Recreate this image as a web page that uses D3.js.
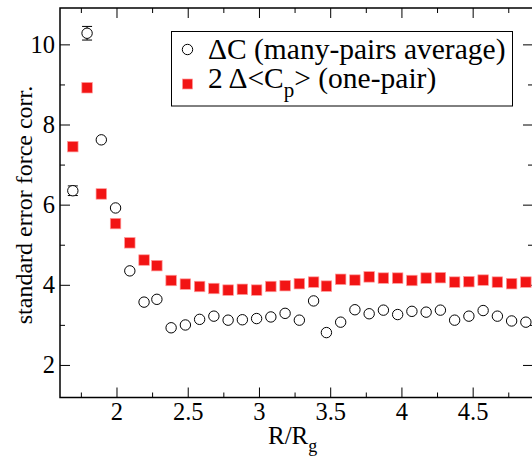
<!DOCTYPE html>
<html>
<head>
<meta charset="utf-8">
<script src="https://cdn.jsdelivr.net/npm/d3@7"></script>
<style>
  body { margin: 0; background: #fff; }
  text { font-family: "Liberation Serif", "Times New Roman", Times, "DejaVu Serif", serif; fill: #000; }
</style>
</head>
<body>
<svg id="chart" width="532" height="457"></svg>
<script>
// R/Rg positions of the samples
var rr = [1.69, 1.79, 1.89, 1.99, 2.09, 2.19, 2.28, 2.38, 2.48, 2.58, 2.68, 2.78, 2.88, 2.98, 3.08, 3.18, 3.28,
          3.38, 3.47, 3.57, 3.67, 3.77, 3.87, 3.97, 4.07, 4.17, 4.27, 4.37, 4.47, 4.57, 4.67, 4.77, 4.87];
// many-pairs average (open circles)
var manyPairs = [6.36, 10.29, 7.63, 5.93, 4.36, 3.58, 3.65, 2.94, 3.01, 3.15, 3.23, 3.13, 3.14, 3.17, 3.21, 3.30, 3.13,
                 3.61, 2.82, 3.08, 3.39, 3.29, 3.38, 3.27, 3.35, 3.33, 3.38, 3.13, 3.23, 3.37, 3.23, 3.11, 3.08];
var manyPairsErr = [0.12, 0.17, 0, 0, 0, 0, 0, 0, 0, 0, 0, 0, 0, 0, 0, 0, 0,
                    0, 0, 0, 0, 0, 0, 0, 0, 0, 0, 0, 0, 0, 0, 0, 0];
// 2 x one-pair (red squares)
var onePair = [7.46, 8.93, 6.28, 5.54, 5.06, 4.63, 4.49, 4.12, 4.03, 3.97, 3.92, 3.88, 3.90, 3.88, 3.97, 3.99, 4.04,
               4.08, 3.98, 4.15, 4.13, 4.21, 4.18, 4.18, 4.12, 4.18, 4.19, 4.08, 4.09, 4.13, 4.08, 4.04, 4.08];

var xTicks = [2, 2.5, 3, 3.5, 4, 4.5];
var xMinor = [1.75, 2.25, 2.75, 3.25, 3.75, 4.25, 4.75];
var yTicks = [2, 4, 6, 8, 10];
var yMinor = [3, 5, 7, 9];

var svg = d3.select("#chart");
// plot frame (note: "top" is a reserved window name, so use pL/pR/pT/pB)
var pL = 60, pR = 533, pT = 8, pB = 397.5;

var x = d3.scaleLinear().domain([1.6, 4.92]).range([pL, pR]);
var y = d3.scaleLinear().domain([1.2, 10.92]).range([pB, pT]);

var ax = svg.append("g").attr("stroke", "#000");

// frame
ax.append("rect")
  .attr("x", pL).attr("y", pT)
  .attr("width", pR - pL).attr("height", pB - pT)
  .attr("fill", "none").attr("stroke-width", 1.5);

// ticks pointing inward, on all four sides
function xTick(v, len) {
  ax.append("line").attr("x1", x(v)).attr("x2", x(v)).attr("y1", pB).attr("y2", pB - len);
  ax.append("line").attr("x1", x(v)).attr("x2", x(v)).attr("y1", pT).attr("y2", pT + len);
}
function yTick(v, len) {
  ax.append("line").attr("y1", y(v)).attr("y2", y(v)).attr("x1", pL).attr("x2", pL + len);
  ax.append("line").attr("y1", y(v)).attr("y2", y(v)).attr("x1", pR).attr("x2", pR - len);
}
xTicks.forEach(function(v) { xTick(v, 10); });
xMinor.forEach(function(v) { xTick(v, 5); });
yTicks.forEach(function(v) { yTick(v, 10); });
yMinor.forEach(function(v) { yTick(v, 5); });

// tick labels
svg.selectAll(".xl").data(xTicks).enter().append("text")
  .attr("x", function(d) { return x(d); }).attr("y", 420)
  .attr("text-anchor", "middle").attr("font-size", 24.5)
  .text(function(d) { return d; });
svg.selectAll(".yl").data(yTicks).enter().append("text")
  .attr("x", 55).attr("y", function(d) { return y(d) + 8; })
  .attr("text-anchor", "end").attr("font-size", 24.5)
  .text(function(d) { return d; });

// axis titles
var xt = svg.append("text").attr("x", 268).attr("y", 443.5).attr("font-size", 25);
xt.append("tspan").text("R/R");
xt.append("tspan").attr("dy", 8).attr("font-size", 18).text("g");

svg.append("text")
  .attr("transform", "translate(32,205) rotate(-90)")
  .attr("text-anchor", "middle").attr("font-size", 24)
  .text("standard error force corr.");

// error bars
var pts = rr.map(function(r, i) { return { r: r, c: manyPairs[i], e: manyPairsErr[i], p: onePair[i] }; });
var eb = svg.append("g").attr("stroke", "#000").attr("stroke-width", 1);
pts.filter(function(d) { return d.e > 0; }).forEach(function(d) {
  var cx = x(d.r);
  eb.append("line").attr("x1", cx).attr("x2", cx).attr("y1", y(d.c - d.e)).attr("y2", y(d.c + d.e));
  eb.append("line").attr("x1", cx - 5).attr("x2", cx + 5).attr("y1", y(d.c - d.e)).attr("y2", y(d.c - d.e));
  eb.append("line").attr("x1", cx - 5).attr("x2", cx + 5).attr("y1", y(d.c + d.e)).attr("y2", y(d.c + d.e));
});

// one-pair squares
svg.append("g").selectAll("rect").data(pts).enter().append("rect")
  .attr("x", function(d) { return x(d.r) - 5.25; })
  .attr("y", function(d) { return y(d.p) - 5.25; })
  .attr("width", 10.5).attr("height", 10.5)
  .attr("fill", "#f21414").attr("stroke", "#f99").attr("stroke-width", 0.7);

// many-pairs circles
svg.append("g").selectAll("circle").data(pts).enter().append("circle")
  .attr("cx", function(d) { return x(d.r); })
  .attr("cy", function(d) { return y(d.c); })
  .attr("r", 5.2)
  .attr("fill", "#fff").attr("stroke", "#000").attr("stroke-width", 1);

// legend
var lg = svg.append("g");
lg.append("rect").attr("x", 171.5).attr("y", 31.5).attr("width", 341).attr("height", 74.5)
  .attr("fill", "#fff").attr("stroke", "#000").attr("stroke-width", 1);
lg.append("circle").attr("cx", 187.5).attr("cy", 49.5).attr("r", 5.2)
  .attr("fill", "#fff").attr("stroke", "#000").attr("stroke-width", 1);
lg.append("rect").attr("x", 182.5).attr("y", 79).attr("width", 10).attr("height", 10)
  .attr("fill", "#f21414").attr("stroke", "#f99").attr("stroke-width", 0.7);
lg.append("text").attr("x", 208).attr("y", 58.5).attr("font-size", 29.5)
  .text("ΔC (many-pairs average)");
var l2 = lg.append("text").attr("x", 208).attr("y", 87.5).attr("font-size", 29.5);
l2.append("tspan").text("2 Δ<C");
l2.append("tspan").attr("dy", 9).attr("font-size", 21).text("p");
l2.append("tspan").attr("dy", -9).text("> (one-pair)");
</script>
</body>
</html>
